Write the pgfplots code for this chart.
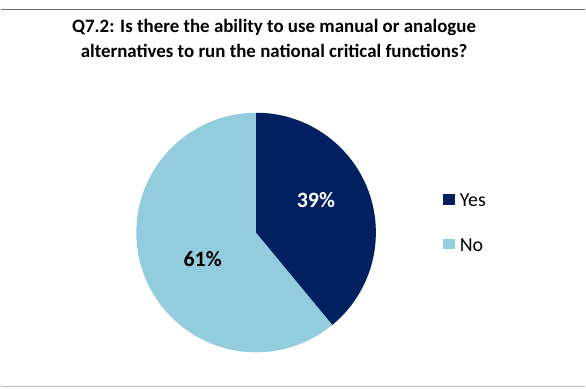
\documentclass[border=0pt]{standalone}
\usepackage{pgfplots}
\usepackage{pgfplotstable}
\pgfplotsset{compat=1.18}
\usepackage{fontspec}
\setmainfont{Carlito}
\definecolor{navy}{RGB}{0,32,96}
\definecolor{lblue}{RGB}{147,205,221}
\pgfplotstableread{
label value
Yes 39
No 61
}\piedata
\begin{document}
\begin{tikzpicture}
\pgfplotstablegetelem{0}{value}\of\piedata \let\vyes\pgfplotsretval
\pgfplotstablegetelem{1}{value}\of\piedata \let\vno\pgfplotsretval
\begin{axis}[
  scale only axis, width=586bp, height=389bp,
  xmin=0, xmax=586, ymin=0, ymax=389,
  hide axis, clip=false,
]
\path (axis cs:0,0) rectangle (axis cs:586,389);
\pgfmathsetmacro{\aend}{90-3.6*\vyes}
% slices
\fill[lblue] (axis cs:256,156) -- (axis cs:256,276) arc[start angle=90, end angle=\aend-360, radius=120bp] -- cycle;
\fill[navy] (axis cs:256,156) -- (axis cs:256,276) arc[start angle=90, end angle=\aend, radius=120bp] -- cycle;
% labels
\node[text=white, font=\bfseries\fontsize{22}{26}\selectfont] at (axis cs:316,189) {\vyes\%};
\node[text=black, font=\bfseries\fontsize{22}{26}\selectfont] at (axis cs:202.5,129) {\vno\%};
% legend
\fill[navy] (axis cs:443,184) rectangle (axis cs:455,195);
\node[anchor=base west, font=\fontsize{20}{24}\selectfont, inner sep=0pt] at (axis cs:460,182) {Yes};
\fill[lblue] (axis cs:443,139) rectangle (axis cs:455,150);
\node[anchor=base west, font=\fontsize{20}{24}\selectfont, inner sep=0pt] at (axis cs:460,137) {No};
% title
\node[anchor=base, inner sep=0pt, font=\bfseries\fontsize{19}{24}\selectfont] at (axis cs:274,356) {Q7.2: Is there the ability to use manual or analogue};
\node[anchor=base, inner sep=0pt, font=\bfseries\fontsize{19}{24}\selectfont] at (axis cs:274,331) {alternatives to run the national critical functions?};
% frame lines
\draw[gray!85!black, line width=1.2bp] (axis cs:0,379.5) -- (axis cs:586,379.5);
\draw[gray!55, line width=1bp] (axis cs:0,2) -- (axis cs:586,2);
\end{axis}
\end{tikzpicture}
\end{document}
